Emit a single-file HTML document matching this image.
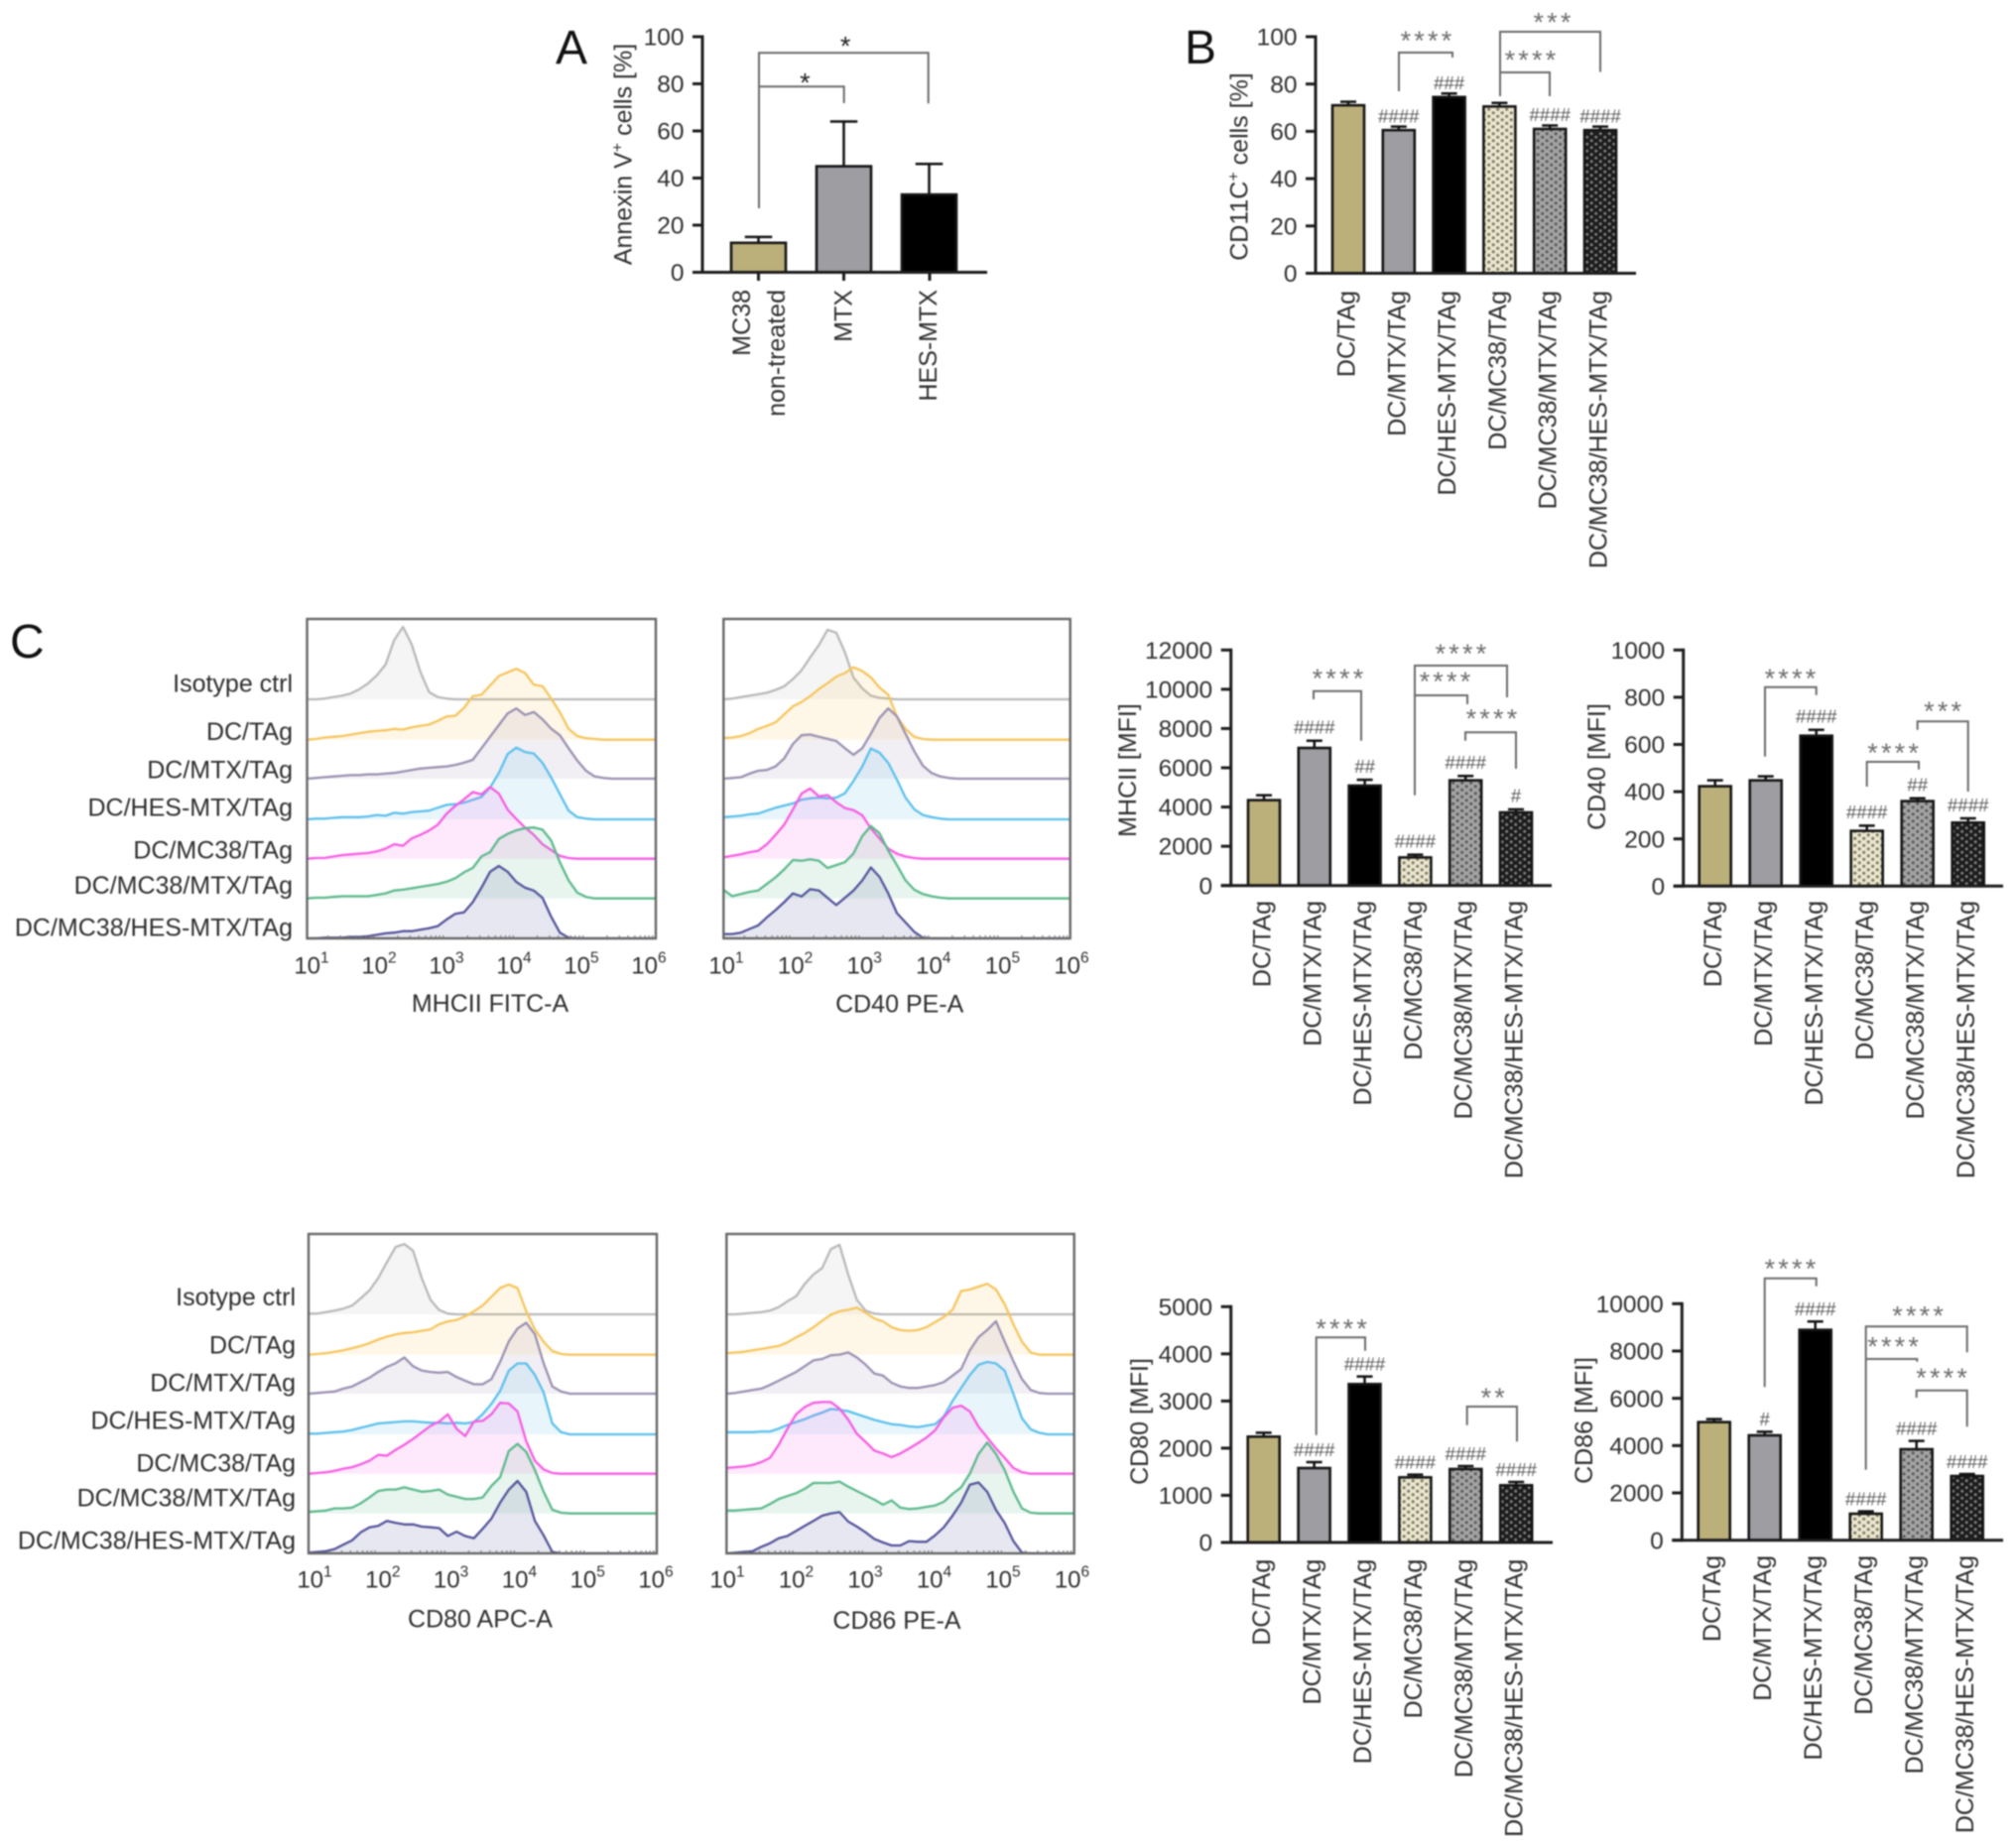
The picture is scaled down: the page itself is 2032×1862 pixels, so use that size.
<!DOCTYPE html>
<html lang="en">
<head>
<meta charset="utf-8">
<title>Panels A, B and C: flow cytometry and bar charts</title>
<style>
html,body{margin:0;padding:0;background:#fff;width:2032px;height:1862px;overflow:hidden}
svg{display:block;filter:blur(0.8px)}
text{font-family:"Liberation Sans",Arial,sans-serif;fill:#2e2e2e}
</style>
</head>
<body>
<svg id="fig" xmlns="http://www.w3.org/2000/svg" width="2032" height="1862" viewBox="0 0 2032 1862">
<defs>
<pattern id="pat-light" width="9" height="7" patternUnits="userSpaceOnUse"><rect width="9" height="7" fill="#ece7cd"/><circle cx="2.2" cy="1.8" r="1.6" fill="#7c7c6c"/><circle cx="6.7" cy="5.3" r="1.6" fill="#7c7c6c"/></pattern>
<pattern id="pat-mid" width="9" height="7" patternUnits="userSpaceOnUse"><rect width="9" height="7" fill="#a4a4a4"/><circle cx="2.2" cy="1.8" r="1.6" fill="#5c5c5c"/><circle cx="6.7" cy="5.3" r="1.6" fill="#5c5c5c"/></pattern>
<pattern id="pat-dark" width="9" height="7" patternUnits="userSpaceOnUse"><rect width="9" height="7" fill="#1c1c1c"/><circle cx="2.2" cy="1.8" r="1.5" fill="#808080"/><circle cx="6.7" cy="5.3" r="1.5" fill="#808080"/></pattern>
</defs>
</svg>
<script>
// ---------- bar chart data ----------
const groupLabels = ['DC/TAg','DC/MTX/TAg','DC/HES-MTX/TAg','DC/MC38/TAg','DC/MC38/MTX/TAg','DC/MC38/HES-MTX/TAg'];
const groupFills = ['#bcb07a','#9d9da2','#000000','url(#pat-light)','url(#pat-mid)','url(#pat-dark)'];

const annexinFills = ['#bcb07a','#9d9da2','#000000'];
const annexinMeans = [12.5,45,33];
const annexinTops = [15,64,46];
const annexinTicks = [0,20,40,60,80,100];

const cd11cMeans = [71,60.5,74.5,70.5,61,60.5];
const cd11cTops = [72.5,62,76,72,62.5,62];
const cd11cHash = ['','####','###','','####','####'];
const cd11cTicks = [0,20,40,60,80,100];

const mhciiMeans = [4350,7010,5090,1430,5360,3725];
const mhciiTops = [4600,7380,5390,1570,5580,3880];
const mhciiHash = ['','####','##','####','####','#'];
const mhciiTicks = [0,2000,4000,6000,8000,10000,12000];

const cd40Means = [423,448,637,234,360,269];
const cd40Tops = [448,465,662,256,372,287];
const cd40Hash = ['','','####','####','##','####'];
const cd40Ticks = [0,200,400,600,800,1000];

const cd80Means = [2244,1578,3359,1381,1557,1213];
const cd80Tops = [2328,1704,3520,1437,1620,1283];
const cd80Hash = ['','####','####','####','####','####'];
const cd80Ticks = [0,1000,2000,3000,4000,5000];

const cd86Means = [4993,4434,8895,1119,3846,2713];
const cd86Tops = [5119,4587,9245,1217,4196,2797];
const cd86Hash = ['','#','####','####','####','####'];
const cd86Ticks = [0,2000,4000,6000,8000,10000];

// ---------- histogram data: normalised count (% of mode) in bins of 1/8 decade from 10^1 ----------
const traceLabels = ['Isotype ctrl','DC/TAg','DC/MTX/TAg','DC/HES-MTX/TAg','DC/MC38/TAg','DC/MC38/MTX/TAg','DC/MC38/HES-MTX/TAg'];
const traceColors = ['#b9b9b9','#f6c55c','#9b91b2','#5cc0ec','#f65ce2','#5cb98c','#55559c'];
const decadeExponents = ['1','2','3','4','5','6'];

const mhciiIso = [0,0,1,3,5,8,14,22,33,48,82,100,76,38,10,3,1];
const mhciiTag = [0,1,3,4,5,7,9,11,12,13,15,14,17,19,21,26,32,33,44,60,62,75,88,93,98,92,76,74,57,38,15,5,2,1];
const mhciiMtx = [0,1,2,3,4,5,5,6,6,7,8,10,12,14,15,16,17,19,22,26,42,58,74,90,97,88,92,82,69,60,42,25,11,3,1];
const mhciiHes = [0,1,1,2,3,3,3,4,6,5,9,8,10,11,12,16,20,21,23,27,31,44,64,90,99,93,91,78,58,35,12,3,1];
const mhciiMc = [0,1,1,3,5,6,7,8,10,14,20,18,28,33,39,47,62,73,82,92,89,99,90,68,55,43,33,20,12,4,1];
const mhciiMcMtx = [0,1,1,2,3,3,3,3,5,7,11,12,14,16,18,20,23,28,36,42,58,64,82,89,94,97,98,95,80,50,25,8,2];
const mhciiMcHes = [0,0,1,1,1,2,2,3,5,7,8,10,10,12,14,17,26,34,36,50,70,92,100,92,78,70,66,56,30,8,1];

const cd40Iso = [0,1,3,5,7,9,13,18,28,40,58,75,96,92,65,30,15,5,2,1];
const cd40Tag = [2,3,5,9,15,19,24,35,46,52,60,70,78,87,92,100,95,86,72,62,32,15,4,1];
const cd40Mtx = [0,1,2,7,11,12,17,28,48,60,61,58,55,52,42,33,42,62,84,97,86,62,38,18,8,3,1];
const cd40Hes = [3,4,5,7,8,12,16,19,22,27,29,30,29,30,36,53,73,98,92,78,55,30,14,6,3,1];
const cd40Mc = [2,4,6,9,11,20,33,47,68,90,97,86,88,78,70,67,60,42,28,14,7,3,1];
const cd40McMtx = [12,3,6,9,11,20,29,40,53,52,54,52,42,46,50,62,86,100,90,66,46,25,12,6,3,1];
const cd40McHes = [6,6,8,13,18,29,39,50,62,58,68,66,56,46,56,66,80,98,85,62,35,22,9,1];

const cd80Iso = [1,1,3,5,8,12,22,33,50,72,93,97,88,50,20,6,1];
const cd80Tag = [0,1,2,4,6,9,12,16,21,25,28,30,31,33,35,42,46,48,53,60,68,80,92,97,92,60,35,18,5,1];
const cd80Mtx = [0,1,2,3,7,10,16,22,30,37,42,50,38,32,30,29,30,23,18,13,13,20,44,72,90,98,82,42,10,3];
const cd80Hes = [1,1,2,3,4,6,9,12,15,16,17,18,18,17,16,16,15,16,15,17,28,42,60,88,98,98,82,58,15,3];
const cd80Mc = [0,1,2,4,7,9,13,18,26,25,33,40,48,57,66,72,82,62,52,72,73,82,98,97,86,45,18,6,1];
const cd80McMtx = [2,3,4,7,7,8,14,22,31,33,33,36,33,30,31,33,26,23,20,20,22,38,50,86,96,85,60,30,5,1];
const cd80McHes = [1,2,3,6,12,18,29,36,38,45,42,40,40,37,36,35,24,30,24,21,34,48,70,88,100,85,45,25,2];

const cd86Iso = [0,0,1,2,3,5,10,18,25,42,55,64,90,96,55,20,5,1];
const cd86Tag = [2,3,4,6,8,10,12,17,24,30,38,47,55,60,62,65,58,50,46,38,34,33,34,38,45,52,62,88,90,94,98,90,70,42,18,3];
const cd86Mtx = [0,1,3,5,7,12,18,24,30,38,46,48,53,54,57,50,40,28,25,15,10,8,8,10,12,16,25,34,60,78,88,100,72,45,20,5,1];
const cd86Hes = [3,3,3,3,4,4,8,13,17,21,26,30,35,34,32,28,24,20,17,14,13,11,10,12,14,25,46,64,82,96,100,98,88,56,22,7,2];
const cd86Mc = [8,9,10,12,16,22,40,62,82,92,98,99,99,90,75,55,44,32,28,23,28,35,42,50,60,78,91,94,86,65,50,35,22,8,2];
const cd86McMtx = [4,4,5,6,7,13,20,24,28,34,42,42,42,44,37,31,25,19,12,18,8,6,7,9,11,16,27,36,55,82,98,82,60,30,7,1];
const cd86McHes = [0,1,2,3,9,14,21,24,31,38,45,52,55,57,44,37,29,20,15,11,11,17,16,16,25,36,52,70,95,98,85,60,42,17,1];

// ---------- helpers ----------
const NS = 'http://www.w3.org/2000/svg';
const fig = document.getElementById('fig');
function node(parent, tag, name, attrs, text){
  const el = document.createElementNS(NS, tag);
  for (const k in attrs) el.setAttribute(k, attrs[k]);
  
  
  if (text !== undefined) el.appendChild(document.createTextNode(text));
  parent.appendChild(el);
  return el;
}
function slug(s){ return s.toLowerCase().replace(/[^a-z0-9]+/g,'-'); }

function valueAxis(c){ return v => c.y0 - (v / c.maxV) * (c.y0 - c.yTop); }
function catAxis(c){ return i => c.cx0 + i * c.step; }

function barChart(c){
  const g = node(fig, 'g', c.name + '-chart', {});
  const y = valueAxis(c), x = catAxis(c);
  // bars and error bars
  c.means.forEach((m, i) => {
    const cx = x(i), top = y(m), et = y(c.tops[i]), hw = c.barW / 2, cap = c.barW * 0.25;
    const label = slug(c.cats[i]);
    node(g, 'line', c.name + '-error-' + label, {x1:cx, x2:cx, y1:top, y2:et, stroke:'#111', 'stroke-width':2.5});
    node(g, 'line', c.name + '-error-cap-' + label, {x1:cx-cap, x2:cx+cap, y1:et, y2:et, stroke:'#111', 'stroke-width':2.5});
    node(g, 'rect', c.name + '-bar-' + label, {x:cx-hw, y:top, width:c.barW, height:c.y0-top, fill:c.fills[i], stroke:'#151515', 'stroke-width':2.6});
    if (c.hash && c.hash[i]) {
      node(g, 'text', c.name + '-significance-hash-' + label, {x:cx, y:et-c.hashLift+6.8, 'text-anchor':'middle', 'font-size':18.7, style:'fill:#5a5a5a'}, c.hash[i]);
    }
  });
  // axes
  node(g, 'line', c.name + '-y-axis', {x1:c.axisX, x2:c.axisX, y1:c.yTop-1.5, y2:c.y0+1.5, stroke:'#1c1c1c', 'stroke-width':3});
  node(g, 'line', c.name + '-x-axis', {x1:c.axisX-10, x2:c.xEnd, y1:c.y0, y2:c.y0, stroke:'#1c1c1c', 'stroke-width':3});
  c.ticks.forEach(t => {
    const ty = y(t);
    node(g, 'line', c.name + '-y-tick', {x1:c.axisX-10, x2:c.axisX, y1:ty, y2:ty, stroke:'#1c1c1c', 'stroke-width':3});
    node(g, 'text', c.name + '-y-tick-label', {x:c.axisX-18.5, y:ty+8.6, 'text-anchor':'end', 'font-size':24.5}, String(t));
  });
  // y title
  const yt = node(g, 'text', c.name + '-y-axis-title', {x:c.titleX, y:c.titleY, 'text-anchor':'middle', 'font-size':25, transform:'rotate(-90 '+c.titleX+' '+c.titleY+')'});
  c.title.forEach(part => {
    node(yt, 'tspan', c.name + '-y-title-part', part.sup ? {dy:-9, 'font-size':16} : (part.after ? {dy:9} : {}), part.t);
  });
  // x labels
  if (c.showLabels !== false) {
    c.cats.forEach((lab, i) => {
      const bx = (c.labelX ? c.labelX[i] : x(i)) + 6.5;
      node(g, 'text', c.name + '-x-tick-label', {x:bx, y:c.labelTop, 'text-anchor':'end', 'font-size':25, transform:'rotate(-90 '+bx+' '+c.labelTop+')'}, lab);
    });
  }
  return g;
}

function bracket(g, name, xl, yl, yt, xr, yr, stars, sx, sy, color){
  node(g, 'path', name + '-bracket', {d:'M'+xl+' '+yl+'L'+xl+' '+yt+'L'+xr+' '+yt+'L'+xr+' '+yr, fill:'none', stroke:'#6a6a6a', 'stroke-width':2});
  node(g, 'text', name + '-stars', {x:sx+2, y:sy+13, 'text-anchor':'middle', 'font-size':27, 'letter-spacing':3.2, style:'fill:'+(color||'#6e6e6e')}, stars);
}

function histogram(p){
  const g = node(fig, 'g', p.name + '-histogram', {});
  const fx = i => p.l + (p.r - p.l) * (i * 0.125) / 5;
  const baseOff = [81,121.7,161,202,241.7,281.7,322];
  const unit = 0.73;
  p.series.forEach((arr, s) => {
    const base = p.t + baseOff[s];
    let d = '';
    for (let i = 0; i <= 40; i++) {
      const v = i < arr.length ? arr[i] : 0;
      d += (i ? 'L' : 'M') + fx(i).toFixed(1) + ' ' + (base - v * unit).toFixed(1);
    }
    node(g, 'path', p.name + '-fill-' + slug(traceLabels[s]), {d:d+'L'+p.r+' '+base+'L'+p.l+' '+base+'Z', fill:traceColors[s], 'fill-opacity':0.14, stroke:'none'});
    node(g, 'path', p.name + '-trace-' + slug(traceLabels[s]), {d:d, fill:'none', stroke:traceColors[s], 'stroke-width':2.3, 'stroke-linejoin':'round'});
  });
  node(g, 'rect', p.name + '-frame', {x:p.l, y:p.t, width:p.r-p.l, height:322, fill:'none', stroke:'#676767', 'stroke-width':2.4});
  for (let dec = 0; dec < 5; dec++) {
    for (let m = 2; m <= 9; m++) {
      const mx = p.l + (p.r - p.l) * (dec + Math.log10(m)) / 5;
      node(g, 'line', p.name + '-minor-tick', {x1:mx, x2:mx, y1:p.t+322, y2:p.t+319, stroke:'#777', 'stroke-width':1.2});
    }
  }
  decadeExponents.forEach((e, i) => {
    const cx = p.labelX0 + p.labelStep * i;
    const t = node(g, 'text', p.name + '-x-tick-label', {x:cx, y:p.tickY, 'text-anchor':'middle', 'font-size':24}, '10');
    node(t, 'tspan', p.name + '-x-tick-exponent', {dy:-11, 'font-size':15.5}, e);
  });
  node(g, 'text', p.name + '-x-axis-title', {x:p.titleX, y:p.titleY, 'text-anchor':'middle', 'font-size':25}, p.title);
  if (p.labelBase) {
    traceLabels.forEach((lab, i) => {
      node(g, 'text', p.name + '-legend-' + slug(lab), {x:p.labelR, y:p.labelBase[i], 'text-anchor':'end', 'font-size':25}, lab);
    });
  }
}

// ---------- panel letters ----------
node(fig, 'text', 'panel-label-a', {x:560, y:64, 'font-size':48, style:'fill:#111'}, 'A');
node(fig, 'text', 'panel-label-b', {x:1194, y:64, 'font-size':48, style:'fill:#111'}, 'B');
node(fig, 'text', 'panel-label-c', {x:10, y:663, 'font-size':48, style:'fill:#111'}, 'C');

// ---------- panel A ----------
const gA = barChart({name:'annexin', cats:['MC38 non-treated','MTX','HES-MTX'], showLabels:false, fills:annexinFills, means:annexinMeans, tops:annexinTops,
  ticks:annexinTicks, maxV:100, y0:274.5, yTop:37, axisX:708, xEnd:995, cx0:764.5, step:86, barW:55,
  titleX:636.5, titleY:155.5, title:[{t:'Annexin V'},{t:'+',sup:true},{t:' cells [%]',after:true}]});
[764.5,850.5,937].forEach(tx => {
  node(gA, 'line', 'annexin-x-tick', {x1:tx, x2:tx, y1:274, y2:283, stroke:'#1c1c1c', 'stroke-width':3});
});
[['MC38',756],['non-treated',791],['MTX',858.5],['HES-MTX',944]].forEach(a => {
  node(gA, 'text', 'annexin-x-tick-label', {x:a[1], y:292, 'text-anchor':'end', 'font-size':25, transform:'rotate(-90 '+a[1]+' 292)'}, a[0]);
});
bracket(gA, 'annexin-mc38-hes', 765, 210, 53.3, 935.7, 104.3, '*', 851.7, 42.7, '#222');
bracket(gA, 'annexin-mc38-mtx', 765, 87.3, 87.3, 850.7, 104, '*', 811, 79.3, '#222');

// ---------- panel B ----------
const gB = barChart({name:'cd11c', cats:groupLabels, fills:groupFills, means:cd11cMeans, tops:cd11cTops, hash:cd11cHash, hashLift:11,
  ticks:cd11cTicks, maxV:100, y0:275.5, yTop:37, axisX:1326, xEnd:1649, cx0:1359, step:50.8, barW:32, labelTop:293,
  titleX:1257.5, titleY:168, title:[{t:'CD11C'},{t:'+',sup:true},{t:' cells [%]',after:true}]});
bracket(gB, 'cd11c-mtx-hes', 1410, 92, 53, 1464, 58, '****', 1437, 37);
bracket(gB, 'cd11c-mc38-hes', 1512, 97, 32, 1613, 72.5, '***', 1564, 18.6);
bracket(gB, 'cd11c-mc38-mtx', 1512, 97, 73, 1562, 97, '****', 1542, 56.5);

// ---------- panel C bars ----------
const gM = barChart({name:'mhcii', cats:groupLabels, fills:groupFills, means:mhciiMeans, tops:mhciiTops, hash:mhciiHash, hashLift:14,
  ticks:mhciiTicks, maxV:12000, y0:892.7, yTop:655.3, axisX:1240.7, xEnd:1564, cx0:1274, step:50.8, barW:32, labelTop:908,
  titleX:1145, titleY:776.5, title:[{t:'MHCII [MFI]'}]});
bracket(gM, 'mhcii-mtx-hes', 1324, 705, 696.7, 1372, 746.7, '****', 1348, 680);
bracket(gM, 'mhcii-mc38-mches', 1426, 801.7, 671, 1519, 703, '****', 1472, 655);
bracket(gM, 'mhcii-mc38-mcmtx', 1426, 701, 701, 1479, 710, '****', 1456, 683);
bracket(gM, 'mhcii-mcmtx-mches', 1477, 746.7, 738.3, 1528, 775, '****', 1503, 720.7);

const g40 = barChart({name:'cd40', cats:groupLabels, fills:groupFills, means:cd40Means, tops:cd40Tops, hash:cd40Hash, hashLift:14,
  ticks:cd40Ticks, maxV:1000, y0:893.3, yTop:655.3, axisX:1696.7, xEnd:2019, cx0:1728.7, step:51, barW:32, labelTop:908,
  titleX:1618, titleY:773, title:[{t:'CD40 [MFI]'}]});
bracket(g40, 'cd40-mtx-hes', 1779, 762.7, 692.7, 1830.7, 700.7, '****', 1804, 680);
bracket(g40, 'cd40-mc38-mcmtx', 1881.7, 793, 768, 1934, 775.7, '****', 1907.7, 755);
bracket(g40, 'cd40-mcmtx-mches', 1932.7, 735.7, 727.3, 1983.7, 798, '***', 1957.7, 713);

const g80 = barChart({name:'cd80', cats:groupLabels, fills:groupFills, means:cd80Means, tops:cd80Tops, hash:cd80Hash, hashLift:13,
  ticks:cd80Ticks, maxV:5000, y0:1555, yTop:1317.3, axisX:1240.7, xEnd:1565, cx0:1273.7, step:50.9, barW:32, labelTop:1571.7,
  titleX:1157, titleY:1433, title:[{t:'CD80 [MFI]'}]});
bracket(g80, 'cd80-mtx-hes', 1326.7, 1446.7, 1348.3, 1376, 1361.7, '****', 1351.7, 1335.7);
bracket(g80, 'cd80-mcmtx-mches', 1478.7, 1436.7, 1418, 1529, 1453.3, '**', 1504.3, 1405);

const g86 = barChart({name:'cd86', cats:groupLabels, fills:groupFills, means:cd86Means, tops:cd86Tops, hash:cd86Hash, hashLift:13,
  ticks:cd86Ticks, maxV:10000, y0:1552.7, yTop:1314.3, axisX:1695.3, xEnd:2019, cx0:1727.7, step:51, barW:32, labelTop:1568,
  titleX:1605, titleY:1432, title:[{t:'CD86 [MFI]'}]});
bracket(g86, 'cd86-mtx-hes', 1778.7, 1398.3, 1288.7, 1830.7, 1296.7, '****', 1804, 1275);
bracket(g86, 'cd86-mc38-mches', 1880.7, 1481.7, 1337.3, 1982.7, 1363.3, '****', 1932.7, 1322.3);
bracket(g86, 'cd86-mc38-mcmtx', 1880.7, 1370, 1370, 1932.3, 1372.7, '****', 1907.7, 1353.3);
bracket(g86, 'cd86-mcmtx-mches', 1931.7, 1409, 1401.7, 1982.7, 1438.3, '****', 1956.7, 1385);

// ---------- panel C histograms ----------
histogram({name:'mhcii-fitc', l:309.5, r:661, t:624, title:'MHCII FITC-A', titleX:494, titleY:1020, tickY:981.7, labelX0:314, labelStep:68,
  series:[mhciiIso,mhciiTag,mhciiMtx,mhciiHes,mhciiMc,mhciiMcMtx,mhciiMcHes], labelR:295, labelBase:[697.3,746,784.3,822.3,865.7,901,943.3]});
histogram({name:'cd40-pe', l:729.3, r:1078.7, t:624, title:'CD40 PE-A', titleX:906.7, titleY:1020.7, tickY:981.7, labelX0:732, labelStep:69.6,
  series:[cd40Iso,cd40Tag,cd40Mtx,cd40Hes,cd40Mc,cd40McMtx,cd40McHes]});
histogram({name:'cd80-apc', l:311, r:662, t:1244, title:'CD80 APC-A', titleX:484, titleY:1640.7, tickY:1600.7, labelX0:317, labelStep:68.8,
  series:[cd80Iso,cd80Tag,cd80Mtx,cd80Hes,cd80Mc,cd80McMtx,cd80McHes], labelR:298, labelBase:[1316,1364.3,1402.3,1440.7,1483.3,1518.7,1561.7]});
histogram({name:'cd86-pe', l:732.3, r:1082.7, t:1244, title:'CD86 PE-A', titleX:904, titleY:1642, tickY:1600.7, labelX0:733, labelStep:69.5,
  series:[cd86Iso,cd86Tag,cd86Mtx,cd86Hes,cd86Mc,cd86McMtx,cd86McHes]});
</script>
</body>
</html>
